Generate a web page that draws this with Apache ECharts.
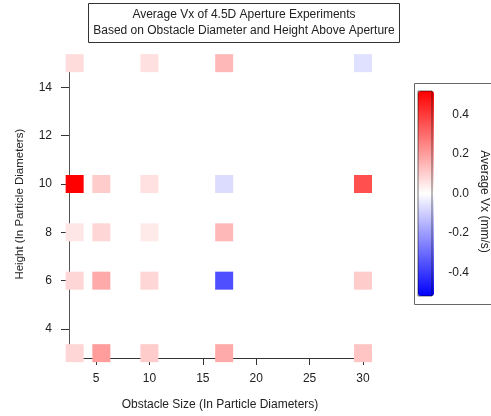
<!DOCTYPE html>
<html>
<head>
<meta charset="utf-8">
<script src="https://cdn.jsdelivr.net/npm/echarts@6/dist/echarts.min.js"></script>
<style>html,body{margin:0;padding:0;background:#fff;}#c{width:491px;height:416px;}</style>
</head>
<body>
<div id="c"></div>
<script>
// Obstacle sizes (x) and heights (y)
const sizes = [3, 5.5, 10, 17, 30];
const heights = [3, 6, 8, 10, 15];
// Average Vx (mm/s) per height row, one entry per obstacle size (null = no experiment)
const vxH3  = [0.083, 0.200, 0.104, 0.173, 0.120];
const vxH6  = [0.083, 0.173, 0.083, -0.359, 0.104];
const vxH8  = [0.051, 0.083, 0.043, 0.145, null];
const vxH10 = [0.520, 0.104, 0.061, -0.071, 0.359];
const vxH15 = [0.071, null, 0.063, 0.145, -0.063];
const xTicks = [5, 10, 15, 20, 25, 30];
const yTicks = [4, 6, 8, 10, 12, 14];
const cbTicks = [-0.4, -0.2, 0, 0.2, 0.4];

const rows = [vxH3, vxH6, vxH8, vxH10, vxH15];
const points = [];
rows.forEach((row, i) => {
  row.forEach((v, j) => {
    if (v !== null) points.push([sizes[j], heights[i], v]);
  });
});

const font = 'Liberation Sans, Arial, sans-serif';
const txt = '#222';

const chart = echarts.init(document.getElementById('c'), null, {renderer: 'canvas'});
chart.setOption({
  animation: false,
  textStyle: {fontFamily: font},
  title: {
    text: 'Average Vx of 4.5D Aperture Experiments\nBased on Obstacle Diameter and Height Above Aperture',
    left: 239, top: 3, textAlign: 'center',
    borderColor: '#333', borderWidth: 1,
    padding: [4, 5, 4, 5],
    textStyle: {fontFamily: font, fontSize: 12, fontWeight: 'normal', color: txt, lineHeight: 16}
  },
  grid: [
    {left: 69, top: 70.4, width: 302, height: 287.6, show: false},
    {left: 418, top: 91, width: 16, height: 205, show: true, borderColor: 'rgba(0,0,0,0.55)', borderWidth: 1, backgroundColor: 'transparent', z: 6}
  ],
  xAxis: [
    {
      type: 'value', gridIndex: 0, min: 2.47, max: 30.75,
      name: 'Obstacle Size (In Particle Diameters)', nameLocation: 'middle', nameGap: 41,
      nameTextStyle: {fontFamily: font, fontSize: 12, color: txt},
      axisLine: {show: true, lineStyle: {color: '#333', width: 1}},
      axisTick: {show: true, length: 7, lineStyle: {color: '#333'}, customValues: xTicks},
      axisLabel: {margin: 15, fontFamily: font, fontSize: 12, color: txt, customValues: xTicks},
      splitLine: {show: false}
    },
    {type: 'value', gridIndex: 1, show: false, min: 0, max: 1}
  ],
  yAxis: [
    {
      type: 'value', gridIndex: 0, min: 2.8, max: 14.7,
      name: 'Height (In Particle Diameters)', nameLocation: 'middle', nameGap: 43,
      nameTextStyle: {fontFamily: font, fontSize: 11.5, color: txt, padding: [0, 0, 0, 20]},
      axisLine: {show: true, lineStyle: {color: '#555', width: 1}},
      axisTick: {show: true, length: 8, lineStyle: {color: '#333'}, customValues: yTicks},
      axisLabel: {margin: 17, fontFamily: font, fontSize: 12, color: txt, customValues: yTicks},
      splitLine: {show: false}
    },
    {
      type: 'value', gridIndex: 1, position: 'right', min: -0.52, max: 0.52,
      name: 'Average Vx (mm/s)', nameLocation: 'middle', nameGap: 46, nameRotate: -90,
      nameTextStyle: {fontFamily: font, fontSize: 12, color: txt, padding: [0, 0, 0, 16]},
      axisLine: {show: false},
      axisTick: {show: true, length: 9, lineStyle: {color: '#333'}, customValues: cbTicks},
      axisLabel: {margin: 37, align: 'right', fontFamily: font, fontSize: 12, color: txt, customValues: cbTicks,
        formatter: v => v.toFixed(1)},
      splitLine: {show: false}
    }
  ],
  visualMap: {
    type: 'continuous', seriesIndex: 0, dimension: 2,
    min: -0.52, max: 0.52, calculable: false, hoverLink: false, realtime: false,
    left: 418, top: 91, itemWidth: 16, itemHeight: 205, padding: 0,
    text: null, showLabel: false,
    inRange: {color: ['#0000ff', '#ffffff', '#ff0000']}
  },
  graphic: [
    {type: 'rect', shape: {x: 414.5, y: 83.5, width: 90, height: 221}, style: {fill: 'none', stroke: '#666', lineWidth: 1}, silent: true}
  ],
  series: [{
    type: 'scatter', xAxisIndex: 0, yAxisIndex: 0,
    symbol: 'rect', symbolSize: 18, clip: false, z: 5,
    itemStyle: {opacity: 1},
    data: points
  }]
});
</script>
</body>
</html>
